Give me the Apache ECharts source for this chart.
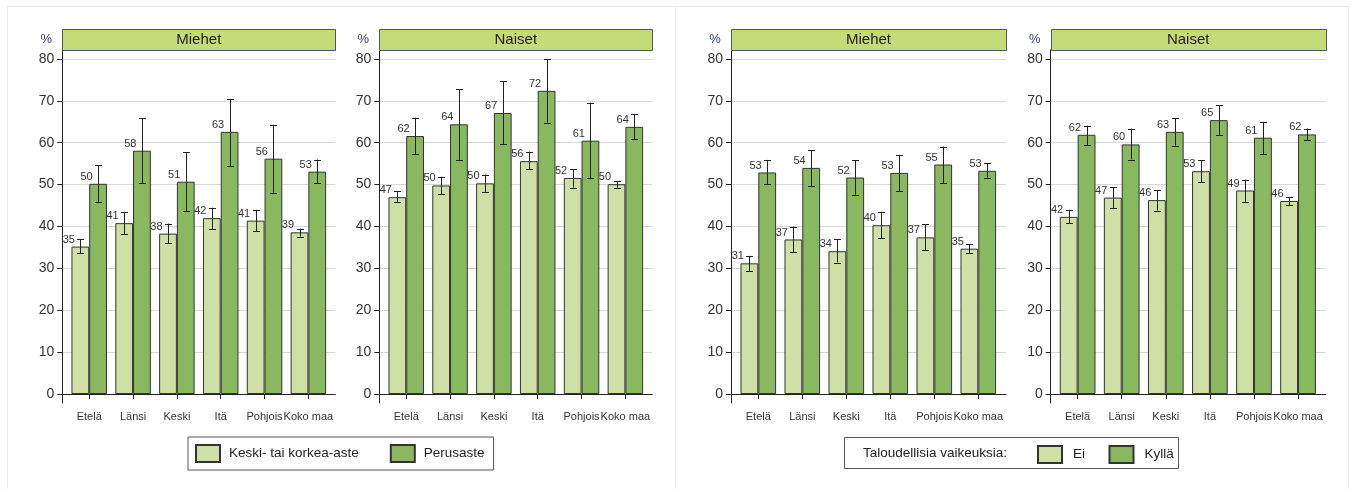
<!DOCTYPE html>
<html>
<head>
<meta charset="utf-8">
<script src="https://cdn.jsdelivr.net/npm/echarts@6/dist/echarts.min.js"></script>
<style>
  html, body { margin: 0; padding: 0; background: #ffffff; }
  #wrap { position: relative; width: 1353px; height: 489px; overflow: hidden; }
  .frame { position: absolute; border: 1px solid #e4ecef; box-sizing: border-box; }
  #chart { position: absolute; left: 0; top: 0; width: 1353px; height: 489px; }
</style>
</head>
<body>
<div id="wrap">
  <div class="frame" style="left:7px; top:6px; width:669px; height:520px;"></div>
  <div class="frame" style="left:675px; top:6px; width:674px; height:520px;"></div>
  <div id="chart"></div>
</div>
<script>
// ---------- DATA ----------
const categories = ['Etelä', 'Länsi', 'Keski', 'Itä', 'Pohjois', 'Koko maa'];
const yTicks = [0, 10, 20, 30, 40, 50, 60, 70, 80];
const panelTitles = ['Miehet', 'Naiset', 'Miehet', 'Naiset'];
const eduNames = ['Keski- tai korkea-aste', 'Perusaste'];
const finNames = ['Ei', 'Kyllä'];
const finLegendTitle = 'Taloudellisia vaikeuksia:';

// Panel 1: Miehet, koulutus
const menEduHigh = [35.2, 40.8, 38.3, 42.0, 41.4, 38.6];
const menEduHighLo = [33.6, 38.2, 36.0, 39.4, 38.9, 37.6];
const menEduHighHi = [36.9, 43.5, 40.7, 44.5, 44.0, 39.5];
const menEduBasic = [50.2, 58.1, 50.7, 62.6, 56.2, 53.1];
const menEduBasicLo = [45.9, 50.4, 43.7, 54.4, 48.1, 50.3];
const menEduBasicHi = [54.6, 65.9, 57.7, 70.5, 64.3, 56.0];

// Panel 2: Naiset, koulutus
const womenEduHigh = [47.0, 49.8, 50.3, 55.6, 51.6, 50.1];
const womenEduHighLo = [45.9, 47.7, 48.2, 53.7, 49.3, 49.3];
const womenEduHighHi = [48.5, 51.9, 52.4, 57.9, 53.7, 50.8];
const womenEduBasic = [61.6, 64.4, 67.1, 72.4, 60.5, 63.8];
const womenEduBasicLo = [57.3, 55.9, 59.7, 64.8, 51.5, 60.9];
const womenEduBasicHi = [66.0, 72.8, 74.7, 79.9, 69.6, 66.8];

// Panel 3: Miehet, taloudelliset vaikeudet
const menFinNo = [31.2, 36.9, 34.1, 40.3, 37.4, 34.7];
const menFinNoLo = [29.4, 33.8, 31.4, 37.2, 34.4, 33.6];
const menFinNoHi = [33.0, 40.0, 36.9, 43.5, 40.5, 35.8];
const menFinYes = [52.9, 54.0, 51.7, 52.8, 54.8, 53.3];
const menFinYesLo = [50.1, 49.6, 47.6, 48.5, 50.4, 51.7];
const menFinYesHi = [55.9, 58.2, 55.8, 57.1, 59.1, 55.1];

// Panel 4: Naiset, taloudelliset vaikeudet
const womenFinNo = [42.3, 46.9, 46.3, 53.2, 48.6, 46.1];
const womenFinNoLo = [40.8, 44.3, 43.8, 50.6, 45.9, 45.1];
const womenFinNoHi = [44.0, 49.4, 48.7, 55.8, 51.2, 47.0];
const womenFinYes = [61.9, 59.6, 62.6, 65.4, 61.2, 62.0];
const womenFinYesLo = [59.5, 56.0, 59.3, 61.9, 57.3, 60.7];
const womenFinYesHi = [64.1, 63.4, 65.9, 68.9, 65.0, 63.4];

// ---------- STYLE / LAYOUT ----------
const LIGHT = '#cfe0a6';
const DARK = '#8ab860';
const HEADER = '#c4dc78';
const FONT = '"Liberation Sans", Arial, Helvetica, sans-serif';
const GAP_PCT = 0.19;

const panels = [
  { ax: 62.3, w: 273, bOff: 5, bW: 263, names: eduNames,
    s: [[menEduHigh, menEduHighLo, menEduHighHi], [menEduBasic, menEduBasicLo, menEduBasicHi]] },
  { ax: 379.3, w: 273, bOff: 5, bW: 263, names: eduNames,
    s: [[womenEduHigh, womenEduHighLo, womenEduHighHi], [womenEduBasic, womenEduBasicLo, womenEduBasicHi]] },
  { ax: 731, w: 275, bOff: 5.3, bW: 264, names: finNames,
    s: [[menFinNo, menFinNoLo, menFinNoHi], [menFinYes, menFinYesLo, menFinYesHi]] },
  { ax: 1050.7, w: 275, bOff: 4.9, bW: 264.5, names: finNames,
    s: [[womenFinNo, womenFinNoLo, womenFinNoHi], [womenFinYes, womenFinYesLo, womenFinYesHi]] }
];
const TOP = 50, BOTTOM = 403;
const Y0 = 394, Y80 = 59;
const PAD = (BOTTOM - Y0) / ((Y0 - Y80) / 80);

const grid = [], xAxis = [], yAxis = [], series = [], graphic = [];

function errRenderer(side) {
  return function (params, api) {
    const x = api.value(0);
    const lo = api.coord([x, api.value(1)]);
    const hi = api.coord([x, api.value(2)]);
    const band = api.size([1, 0])[0];
    const bw = band * (1 - GAP_PCT) / 2;
    const cx = Math.round(lo[0] + side * bw / 2) + 0.5;
    const c = 3.5;
    const st = { stroke: '#222', lineWidth: 1 };
    return {
      type: 'group',
      children: [
        { type: 'line', shape: { x1: cx, y1: lo[1], x2: cx, y2: hi[1] }, style: st },
        { type: 'line', shape: { x1: cx - c, y1: Math.round(lo[1]) + 0.5, x2: cx + c, y2: Math.round(lo[1]) + 0.5 }, style: st },
        { type: 'line', shape: { x1: cx - c, y1: Math.round(hi[1]) + 0.5, x2: cx + c, y2: Math.round(hi[1]) + 0.5 }, style: st }
      ]
    };
  };
}

panels.forEach((p, i) => {
  const gA = i * 2, gB = i * 2 + 1;
  // frame grid (axis lines, y labels, gridlines)
  grid.push({ left: p.ax, top: TOP, width: p.w, height: BOTTOM - TOP, containLabel: false });
  // data grid
  grid.push({ left: p.ax + p.bOff, top: Y80, width: p.bW, height: Y0 - Y80, containLabel: false });

  xAxis.push({
    type: 'value', gridIndex: gA, min: 0, max: 1,
    axisLine: { show: true, lineStyle: { color: '#222', width: 1 } },
    axisTick: { show: false }, axisLabel: { show: false }, splitLine: { show: false }
  });
  xAxis.push({
    type: 'category', gridIndex: gB, data: categories, offset: BOTTOM - Y0,
    axisLine: { show: false },
    axisTick: { show: true, alignWithLabel: true, length: 5, lineStyle: { color: '#222' } },
    axisLabel: { interval: 0, fontSize: 11, color: '#333', margin: 8, fontFamily: FONT },
    splitLine: { show: false }
  });
  yAxis.push({
    type: 'value', gridIndex: gA, min: -PAD, max: 80 + PAD,
    axisLine: { show: true, lineStyle: { color: '#222', width: 1 } },
    axisTick: { show: true, customValues: yTicks, length: 5, lineStyle: { color: '#222' } },
    axisLabel: { show: true, customValues: yTicks, fontSize: 14, color: '#333', margin: 8, fontFamily: FONT },
    splitLine: { show: true, lineStyle: { color: '#d8d8d8', width: 1 } }
  });
  yAxis.push({
    type: 'value', gridIndex: gB, min: 0, max: 80, show: false,
    splitLine: { show: false }
  });

  p.s.forEach((sd, k) => {
    const color = k === 0 ? LIGHT : DARK;
    series.push({
      type: 'bar', name: p.names[k], xAxisIndex: gB, yAxisIndex: gB,
      data: sd[0], barGap: '0%', barCategoryGap: (GAP_PCT * 100) + '%',
      itemStyle: { color: color, borderColor: '#333', borderWidth: 1 },
      label: {
        show: true, position: [3.4, -7], align: 'right', verticalAlign: 'middle',
        fontSize: 11, color: '#333', fontFamily: FONT,
        formatter: (q) => String(Math.round(q.value))
      },
      emphasis: { disabled: true },
      animation: false
    });
  });
  p.s.forEach((sd, k) => {
    series.push({
      type: 'custom', name: p.names[k] + ' CI', xAxisIndex: gB, yAxisIndex: gB,
      data: categories.map((c, j) => [j, sd[1][j], sd[2][j]]),
      encode: { x: 0, y: [1, 2] },
      renderItem: errRenderer(k === 0 ? -1 : 1),
      z: 3, silent: true, animation: false
    });
  });

  graphic.push({
    type: 'rect', left: null, shape: { x: Math.round(p.ax) + 0.5, y: 29.5, width: p.w, height: 21 },
    style: { fill: HEADER, stroke: '#555', lineWidth: 1 }, z: 10
  });
  graphic.push({
    type: 'text', x: p.ax + p.w / 2, y: 40, z: 11,
    style: { text: panelTitles[i], fill: '#222', font: '15px ' + FONT, textAlign: 'center', textVerticalAlign: 'middle' }
  });
  graphic.push({
    type: 'text', x: p.ax - 16, y: 39, z: 11,
    style: { text: '%', fill: '#2f3f72', font: '13px ' + FONT, textAlign: 'center', textVerticalAlign: 'middle' }
  });
});

// legend 2 frame + title
graphic.push({
  type: 'rect', shape: { x: 844.5, y: 437.5, width: 334, height: 31 },
  style: { fill: '#fff', stroke: '#555', lineWidth: 1 }, z: 0
});
graphic.push({
  type: 'text', x: 863, y: 453.5, z: 1,
  style: { text: finLegendTitle, fill: '#222', font: '13.5px ' + FONT, textAlign: 'left', textVerticalAlign: 'middle' }
});

const option = {
  animation: false,
  textStyle: { fontFamily: FONT },
  grid: grid, xAxis: xAxis, yAxis: yAxis, series: series, graphic: graphic,
  legend: [
    {
      data: eduNames, left: 188, top: 437, orient: 'horizontal',
      padding: [7, 9, 7, 7], itemWidth: 24, itemHeight: 17, itemGap: 31,
      borderColor: '#555', borderWidth: 1, backgroundColor: '#fff',
      icon: 'rect', selectedMode: false,
      textStyle: { fontSize: 13.5, color: '#222', padding: [0, 0, 0, 4] }
    },
    {
      data: finNames, left: 1037, top: 445, orient: 'horizontal',
      padding: 0, itemWidth: 24, itemHeight: 17, itemGap: 23.5,
      icon: 'rect', selectedMode: false,
      textStyle: { fontSize: 13.5, color: '#222', padding: [0, 0, 0, 6] }
    }
  ]
};

const chart = echarts.init(document.getElementById('chart'), null, { renderer: 'canvas' });
chart.setOption(option);
</script>
</body>
</html>
